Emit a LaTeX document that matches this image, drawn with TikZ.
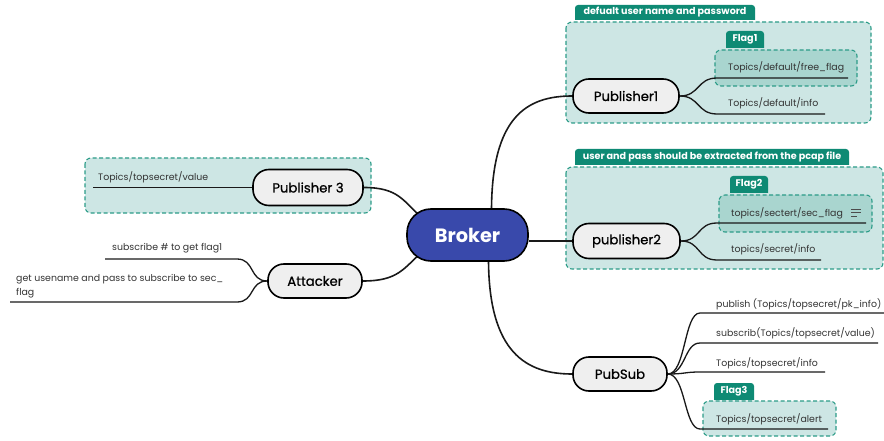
\documentclass[tikz,border=0pt]{standalone}
\usepackage{fontspec}
\setmainfont{Poppins}
\newfontfamily\pillfont[FakeBold=0.8]{Poppins}
\usetikzlibrary{backgrounds}
\definecolor{grpfill}{HTML}{CDE6E4}
\definecolor{flagfill}{HTML}{A9D5CF}
\definecolor{tabteal}{HTML}{0E8A74}
\definecolor{dashteal}{HTML}{2C9C88}
\definecolor{brokerblue}{HTML}{3949AB}
\definecolor{pillfill}{HTML}{EFEFEF}
\definecolor{leaftext}{HTML}{333333}
\begin{document}
\begin{tikzpicture}[x=1pt,y=-1pt,
  group/.style={draw=dashteal, dash pattern=on 4pt off 2.5pt, line width=1.1pt, fill=grpfill, rounded corners=6pt},
  flagbox/.style={group, fill=flagfill},
  tabshape/.style={fill=tabteal},
  tabtext/.style={text=white, font=\fontsize{9.6}{11}\selectfont\bfseries, inner sep=0pt},
  pill/.style={draw=black, line width=1.6pt, fill=pillfill, rounded corners=16pt, inner sep=0pt,
    font=\pillfont\fontsize{13.2}{15}\selectfont},
  conn/.style={line width=1.6pt, draw=black!90},
  uline/.style={line width=1.3pt, draw=black!90},
  leaf/.style={anchor=base west, inner sep=0pt, text=leaftext, font=\fontsize{9.4}{11}\selectfont},
]
\useasboundingbox (0,0) rectangle (884,441);

% ---------- central and branch nodes ----------
\node[pill, fill=brokerblue, text=white, minimum width=121pt, minimum height=52pt, rounded corners=24pt,
  font=\fontsize{19.3}{22}\selectfont\bfseries] (broker) at (467.5,235) {Broker};
\node[pill, minimum width=106pt, minimum height=34pt] (p1) at (626,96) {Publisher1};
\node[pill, minimum width=107pt, minimum height=35pt] (p2) at (626.5,241) {publisher2};
\node[pill, minimum width=94pt, minimum height=34pt] (ps) at (620,374) {PubSub};
\node[pill, minimum width=110pt, minimum height=36pt] (p3) at (308,187.5) {Publisher 3};
\node[pill, minimum width=94pt, minimum height=34pt] (att) at (315,281) {Attacker};

% ---------- leaf texts ----------
\node[leaf] (l11) at (728,71) {Topics/default/free\_flag};
\node[leaf] (l12) at (728,107) {Topics/default/info};
\node[leaf] (l21) at (731,216) {topics/sectert/sec\_flag};
\node[leaf] (l22) at (731,252) {topics/secret/info};
\node[leaf] (l31) at (716,307) {publish (Topics/topsecret/pk\_info)};
\node[leaf] (l32) at (716,336) {subscrib(Topics/topsecret/value)};
\node[leaf] (l33) at (716,366) {Topics/topsecret/info};
\node[leaf] (l34) at (716,422) {Topics/topsecret/alert};
\node[leaf] (l41) at (98,181) {Topics/topsecret/value};
\node[leaf] (l51) at (112,251) {subscribe \# to get flag1};
% two-line label: base anchor sits on the last line
\node[leaf, align=left] (l52) at (16,295) {get usename and pass to subscribe to sec\_\\[3pt]flag};

% ---------- tab labels ----------
\node[tabtext] (t1) at (665,12.5) {defualt user name and password};
\node[tabtext] (t2) at (712,157) {user and pass should be extracted from the pcap file};
\node[tabtext] (f1) at (745,39.5) {Flag1};
\node[tabtext] (f2) at (749,184.5) {Flag2};
\node[tabtext] (f3) at (734,391.5) {Flag3};

% underline end points
\coordinate (u11) at (717,78);  \coordinate (u11e) at (848,78);
\coordinate (u12) at (717,114); \coordinate (u12e) at (825,114);
\coordinate (u21) at (717,223); \coordinate (u21e) at (866,223);
\coordinate (u22) at (717,260); \coordinate (u22e) at (821,260);
\coordinate (u31) at (700,313); \coordinate (u31e) at (884,313);
\coordinate (u32) at (700,343); \coordinate (u32e) at (878,343);
\coordinate (u33) at (700,372); \coordinate (u33e) at (825,372);
\coordinate (u34) at (700,429); \coordinate (u34e) at (828,429);
\coordinate (u41) at (93,187.5);
\coordinate (u51) at (237,259); \coordinate (u51e) at (105,259);
\coordinate (u52) at (237,302); \coordinate (u52e) at (10,302);

\begin{scope}[on background layer]
  % group frames
  \path[group] (566,22) rectangle (871,123);
  \path[group] (566,167) rectangle (883,269);
  \path[group] (85,158) rectangle (371,213);
  \path[flagbox] (715,50) rectangle (857,86);
  \path[flagbox] (719,195) rectangle (872,232);
  \path[group] (703,401) rectangle (836,436);
  % tabs with rounded top corners
  \fill[tabshape] (575,20) [rounded corners=3pt]-- (575,5) -- (755,5) [sharp corners]-- (755,20) -- cycle;
  \fill[tabshape] (575,165) [rounded corners=3pt]-- (575,149) -- (849,149) [sharp corners]-- (849,165) -- cycle;
  \fill[tabshape] (726,48) [rounded corners=3pt]-- (726,31) -- (764,31) [sharp corners]-- (764,48) -- cycle;
  \fill[tabshape] (730,193) [rounded corners=3pt]-- (730,176) -- (768,176) [sharp corners]-- (768,193) -- cycle;
  \fill[tabshape] (714,400) [rounded corners=3pt]-- (714,383) -- (754,383) [sharp corners]-- (754,400) -- cycle;

  % broker connectors
  \draw[conn] ([xshift=24pt,yshift=-3pt]broker.north) .. controls +(0,-95) and +(-45,0) .. (p1.west);
  \draw[conn] (p2.west) -- (p2.west -| broker.east);
  \draw[conn] ([xshift=21pt,yshift=3pt]broker.south) .. controls +(0,95) and +(-45,0) .. (ps.west);
  \draw[conn] (p3.east) .. controls +(35,0) and +(-18,-16) .. ([xshift=15pt,yshift=-9pt]broker.north west);
  \draw[conn] (att.east) .. controls +(35,0) and +(-18,16) .. ([xshift=15pt,yshift=9pt]broker.south west);

  % leaf branches
  \draw[uline] (p1.east) .. controls +(20,0) and +(-20,0) .. (u11) -- (u11e);
  \draw[uline] (p1.east) .. controls +(20,0) and +(-20,0) .. (u12) -- (u12e);
  \draw[uline] (p2.east) .. controls +(20,0) and +(-20,0) .. (u21) -- (u21e);
  \draw[uline] (p2.east) .. controls +(20,0) and +(-20,0) .. (u22) -- (u22e);
  \draw[uline] (ps.east) .. controls +(18,0) and +(-16,0) .. (u31) -- (u31e);
  \draw[uline] (ps.east) .. controls +(18,0) and +(-16,0) .. (u32) -- (u32e);
  \draw[uline] (ps.east) .. controls +(18,0) and +(-16,0) .. (u33) -- (u33e);
  \draw[uline] (ps.east) .. controls +(18,0) and +(-16,0) .. (u34) -- (u34e);
  \draw[uline] (p3.west) -- (u41);
  \draw[uline] (att.west) .. controls +(-18,0) and +(18,0) .. (u51) -- (u51e);
  \draw[uline] (att.west) .. controls +(-18,0) and +(18,0) .. (u52) -- (u52e);

  % note marker beside the sec_flag topic
  \draw[line width=0.9pt, black!70] (851,209) -- (861,209) (851,212.5) -- (861,212.5) (851,216) -- (857,216);
\end{scope}
\end{tikzpicture}
\end{document}
